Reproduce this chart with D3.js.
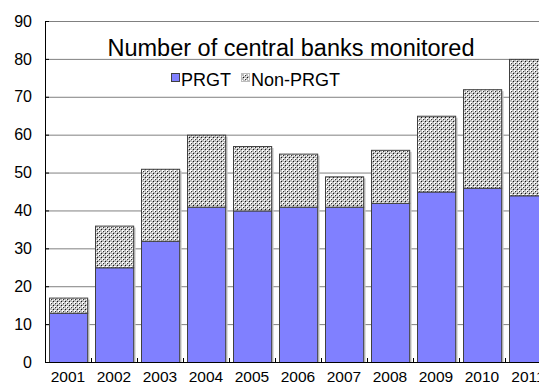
<!DOCTYPE html>
<html>
<head>
<meta charset="utf-8">
<script src="https://cdn.jsdelivr.net/npm/d3@7"></script>
<style>
  html, body { margin: 0; padding: 0; background: #fff; overflow: hidden; }
  svg { display: block; }
  text { font-family: Arial, "Liberation Sans", sans-serif; fill: #000; }
</style>
</head>
<body>
<div id="chart"></div>
<script>
const years = ["2001", "2002", "2003", "2004", "2005", "2006", "2007", "2008", "2009", "2010", "2011"];
const prgt = [13, 25, 32, 41, 40, 41, 41, 42, 45, 46, 44];
const nonPrgt = [4, 11, 19, 19, 17, 14, 8, 14, 20, 26, 36];
const yTicks = [0, 10, 20, 30, 40, 50, 60, 70, 80, 90];
const seriesNames = ["PRGT", "Non-PRGT"];

const width = 539;
const height = 387;
const margin = { top: 21, right: -12, bottom: 25, left: 45 };
const innerWidth = width - margin.left - margin.right;
const innerHeight = height - margin.top - margin.bottom;

const svg = d3.select('#chart')
              .append('svg')
              .attr('width', width)
              .attr('height', height);

// dotted fill used by the Non-PRGT series
const pat = svg.append('defs').append('pattern')
               .attr('id', 'dots')
               .attr('width', 4).attr('height', 4)
               .attr('patternUnits', 'userSpaceOnUse');
pat.append('rect').attr('width', 4).attr('height', 4).attr('fill', '#bdbdbd');
pat.append('rect').attr('x', 1).attr('y', 1).attr('width', 2).attr('height', 2).attr('fill', '#ffffff');
pat.append('rect').attr('x', 3).attr('y', 3).attr('width', 1).attr('height', 1).attr('fill', '#ffffff');
pat.append('rect').attr('x', 0).attr('y', 0).attr('width', 1).attr('height', 1).attr('fill', '#111');
pat.append('rect').attr('x', 2).attr('y', 2).attr('width', 1).attr('height', 1).attr('fill', '#333');

const xScale = d3.scaleBand()
                 .domain(years)
                 .range([0, innerWidth])
                 .paddingInner(0.17)
                 .paddingOuter(0.085);

const yScale = d3.scaleLinear()
                 .domain([0, 90])
                 .range([innerHeight, 0]);

const g = svg.append('g')
             .attr('transform', `translate(${margin.left},${margin.top})`);

// gridlines
g.append('g').selectAll('line')
  .data(yTicks.slice(1))
  .enter().append('line')
  .attr('x1', 0).attr('x2', innerWidth)
  .attr('y1', d => yScale(d) + 0.5).attr('y2', d => yScale(d) + 0.5)
  .attr('stroke', '#808080')
  .attr('stroke-width', 1);

const data = years.map((y, i) => ({ year: y, prgt: prgt[i], non: nonPrgt[i] }));
const stack = d3.stack().keys(['prgt', 'non'])(data);
const fills = ['#8080ff', 'url(#dots)'];

// shadows
g.append('g').selectAll('rect')
  .data(data)
  .enter().append('rect')
  .attr('x', d => xScale(d.year) + 2.5)
  .attr('y', d => yScale(d.prgt + d.non) + 2)
  .attr('width', xScale.bandwidth())
  .attr('height', d => innerHeight - yScale(d.prgt + d.non) - 2)
  .attr('fill', '#c8c8c8');

stack.forEach((layer, k) => {
  g.append('g').selectAll('rect')
    .data(layer)
    .enter().append('rect')
    .attr('x', d => Math.round(xScale(d.data.year)) + 0.5)
    .attr('y', d => yScale(d[1]) + 0.5)
    .attr('width', xScale.bandwidth())
    .attr('height', d => yScale(d[0]) - yScale(d[1]))
    .attr('fill', fills[k])
    .attr('stroke', '#404040')
    .attr('stroke-width', 1);
});

// y axis
const yAxis = d3.axisLeft(yScale).tickValues(yTicks).tickSize(-4).tickPadding(13);
g.append('g').attr('class', 'yaxis').call(yAxis)
  .call(a => a.select('.domain').attr('stroke', '#000').attr('d', `M0.5,${innerHeight}V0.5`))
  .call(a => a.selectAll('text').style('font-size', '16px').attr('font-family', null));

// x axis
g.append('line')
  .attr('x1', 0).attr('x2', innerWidth)
  .attr('y1', innerHeight + 0.5).attr('y2', innerHeight + 0.5)
  .attr('stroke', '#000');
g.append('g').selectAll('line')
  .data(years.slice(1))
  .enter().append('line')
  .attr('x1', d => Math.round(xScale(d) - xScale.step() * 0.085) + 0.5)
  .attr('x2', d => Math.round(xScale(d) - xScale.step() * 0.085) + 0.5)
  .attr('y1', innerHeight).attr('y2', innerHeight - 4)
  .attr('stroke', '#000');
g.append('g').selectAll('text')
  .data(years)
  .enter().append('text')
  .attr('x', d => xScale(d) + xScale.bandwidth() / 2)
  .attr('y', innerHeight + 20)
  .attr('text-anchor', 'middle')
  .style('font-size', '15.5px')
  .text(d => d);

// title
svg.append('text')
   .attr('x', 291)
   .attr('y', 56)
   .attr('text-anchor', 'middle')
   .style('font-size', '23.5px')
   .text('Number of central banks monitored');

// legend
const legend = svg.append('g').attr('transform', 'translate(171,73)');
const lx = [0, 70];
seriesNames.forEach((name, i) => {
  legend.append('rect')
    .attr('x', lx[i] + 0.5).attr('y', 0.5)
    .attr('width', 8).attr('height', 8)
    .attr('fill', fills[i])
    .attr('stroke', i === 0 ? '#404040' : '#bdbdbd');
  legend.append('text')
    .attr('x', lx[i] + 10)
    .attr('y', 13)
    .style('font-size', '18px')
    .text(name);
});
</script>
</body>
</html>
